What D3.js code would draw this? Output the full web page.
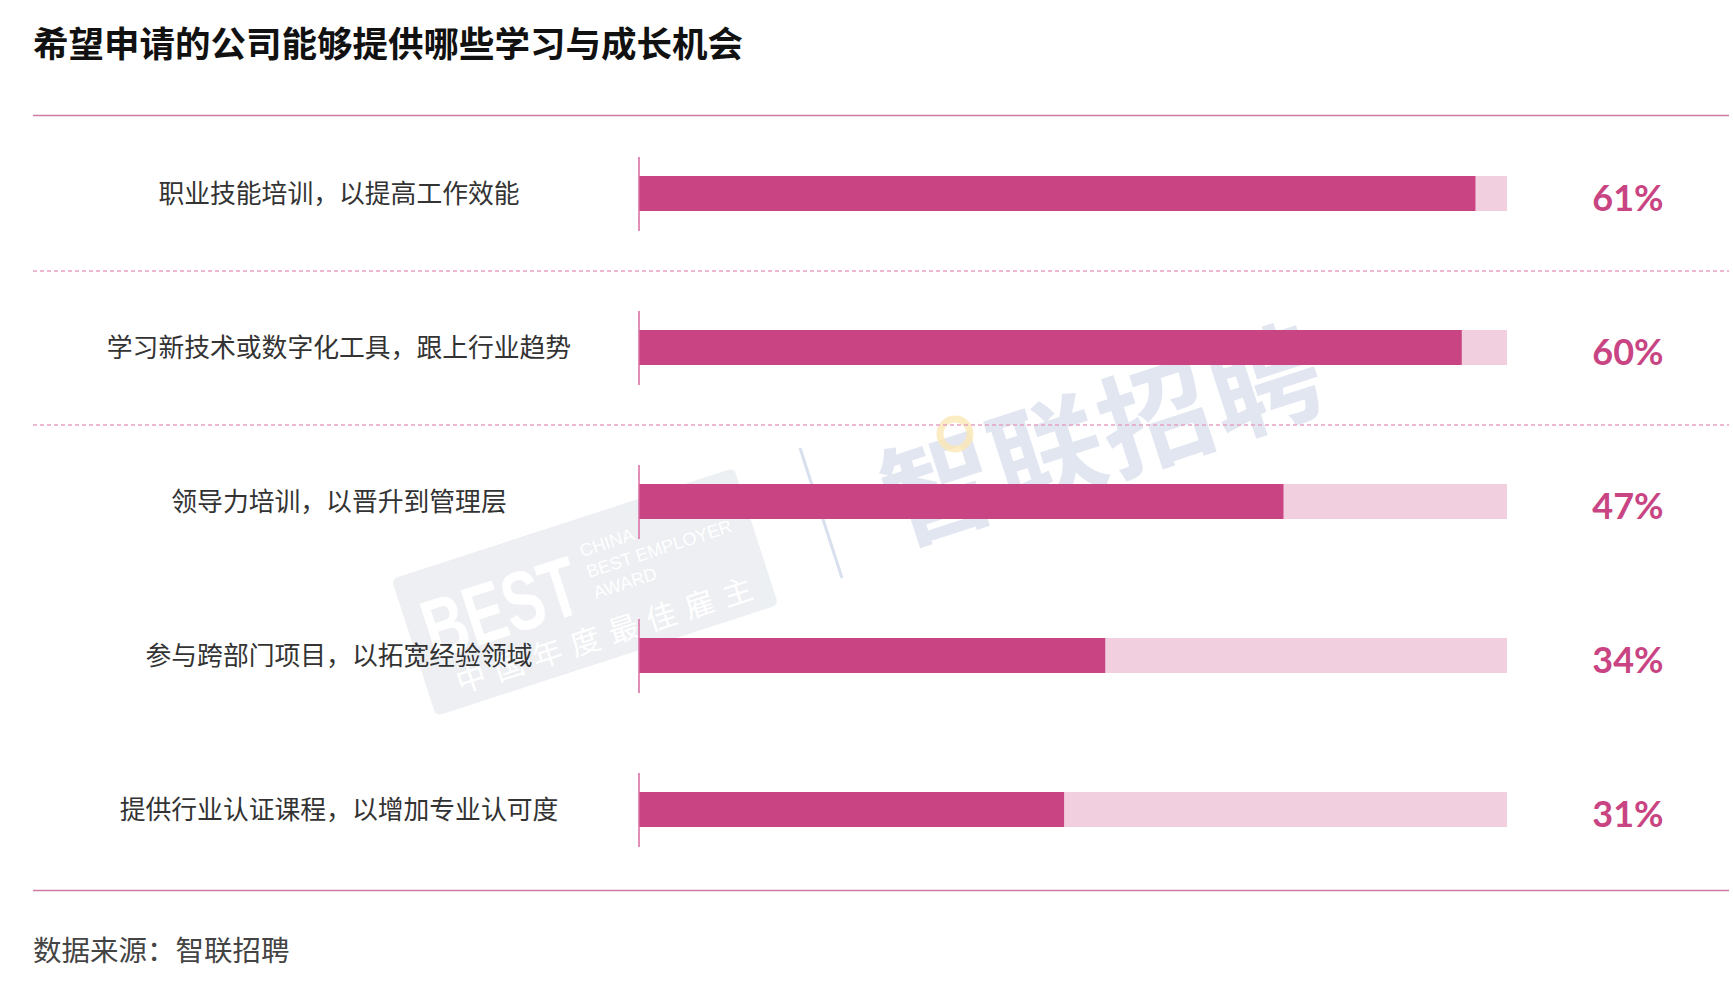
<!DOCTYPE html>
<html>
<head>
<meta charset="utf-8">
<script src="https://cdn.jsdelivr.net/npm/d3@7"></script>
<style>
  html, body { margin: 0; padding: 0; background: #ffffff; }
  svg { display: block; }
</style>
</head>
<body>
<svg id="chart" width="1733" height="1004"></svg>
<script>
// ---- data ----
const title = "希望申请的公司能够提供哪些学习与成长机会";
const source = "数据来源：智联招聘";
const categories = [
  "职业技能培训，以提高工作效能",
  "学习新技术或数字化工具，跟上行业趋势",
  "领导力培训，以晋升到管理层",
  "参与跨部门项目，以拓宽经验领域",
  "提供行业认证课程，以增加专业认可度"
];
const values = [61, 60, 47, 34, 31];
const valueLabels = ["61%", "60%", "47%", "34%", "31%"];
const trackMax = 63.3;

// ---- layout ----
const svg = d3.select("#chart");
const cjk = "'Noto Sans CJK SC', 'Noto Sans', sans-serif";

const x = d3.scaleLinear().domain([0, trackMax]).range([639, 1507]);
const y = d3.scaleBand().domain(categories).range([117, 887]).paddingInner(0).paddingOuter(0);
const barH = 35;
const barColor = "#c94482";
const trackColor = "#f2cfdf";
const lineColor = "#d07aa6";

// ---- watermarks ----
const wm = svg.append("g").attr("class", "watermark");
wm.append("text")
  .attr("transform", "translate(1100,428) rotate(-18)")
  .attr("text-anchor", "middle")
  .attr("dominant-baseline", "central")
  .style("font-family", cjk).style("font-weight", 700)
  .style("font-size", "112px")
  .style("letter-spacing", "2px")
  .attr("fill", "#c9d3e6").attr("opacity", 0.55)
  .text("智联招聘");
wm.append("circle").attr("cx", 955).attr("cy", 434).attr("r", 15)
  .attr("fill", "none").attr("stroke", "#fbe7b4").attr("stroke-width", 7).attr("opacity", 0.8);
wm.append("line").attr("x1", 800).attr("y1", 448).attr("x2", 842).attr("y2", 578)
  .attr("stroke", "#c9d3e6").attr("stroke-width", 3).attr("opacity", 0.7);
const badge = wm.append("g").attr("transform", "translate(585,592) rotate(-18)").attr("opacity", 0.55);
badge.append("rect").attr("x", -180).attr("y", -72).attr("width", 360).attr("height", 144)
  .attr("rx", 6).attr("fill", "#dfe3ea");
badge.append("text").attr("x", -165).attr("y", 18)
  .attr("textLength", 160).attr("lengthAdjust", "spacingAndGlyphs")
  .style("font-family", "'Liberation Sans Narrow', 'Liberation Sans', sans-serif")
  .style("font-weight", 700).style("font-size", "84px")
  .attr("fill", "#ffffff").text("BEST");
[["CHINA", -34], ["BEST EMPLOYER", -12], ["AWARD", 10]].forEach(d => {
  badge.append("text").attr("x", 8).attr("y", d[1])
    .style("font-family", "'Liberation Sans', sans-serif").style("font-size", "18px")
    .attr("fill", "#ffffff").text(d[0]);
});
badge.append("text").attr("x", -150).attr("y", 58)
  .attr("textLength", 310).attr("lengthAdjust", "spacing")
  .style("font-family", cjk).style("font-size", "30px")
  .attr("fill", "#ffffff").text("中国年度最佳雇主");

// ---- title ----
svg.append("text")
  .attr("x", 33).attr("y", 57)
  .style("font-family", cjk).style("font-weight", 700).style("font-size", "35.5px")
  .attr("fill", "#111111")
  .text(title);

// ---- frame lines ----
svg.append("line").attr("x1", 33).attr("x2", 1729).attr("y1", 115.5).attr("y2", 115.5)
  .attr("stroke", lineColor).attr("stroke-width", 1.5);
svg.append("line").attr("x1", 33).attr("x2", 1729).attr("y1", 890.5).attr("y2", 890.5)
  .attr("stroke", lineColor).attr("stroke-width", 1.5);

// dashed separators between first rows
[categories[0], categories[1]].forEach(c => {
  const yy = y(c) + y.bandwidth();
  svg.append("line").attr("x1", 33).attr("x2", 1729).attr("y1", yy).attr("y2", yy)
    .attr("stroke", "#e3a3c2").attr("stroke-width", 1.5).attr("stroke-dasharray", "4,3");
});

// ---- rows ----
const rows = svg.selectAll("g.row").data(categories).join("g").attr("class", "row")
  .attr("transform", d => `translate(0,${y(d) + y.bandwidth() / 2})`);

rows.append("rect")
  .attr("x", x(0)).attr("y", -barH / 2 - 0.5)
  .attr("width", x(trackMax) - x(0)).attr("height", barH)
  .attr("fill", trackColor);

rows.append("rect")
  .attr("x", x(0)).attr("y", -barH / 2 - 0.5)
  .attr("width", (d, i) => x(values[i]) - x(0)).attr("height", barH)
  .attr("fill", barColor);

// axis tick lines
rows.append("line")
  .attr("x1", x(0)).attr("x2", x(0)).attr("y1", -37).attr("y2", 37)
  .attr("stroke", "#d96aa0").attr("stroke-width", 1.5);

// category labels
rows.append("text")
  .attr("x", 339).attr("y", -3)
  .attr("text-anchor", "middle").attr("dominant-baseline", "central")
  .style("font-family", cjk).style("font-size", "25.8px").style("font-weight", 400)
  .attr("fill", "#333333")
  .text(d => d);

// value labels
rows.append("text")
  .attr("x", 1628).attr("y", 17)
  .attr("text-anchor", "middle")
  .style("font-family", "Lato, 'Open Sans', sans-serif").style("font-size", "36px").style("font-weight", 700)
  .attr("fill", barColor)
  .text((d, i) => valueLabels[i]);

// ---- source ----
svg.append("text")
  .attr("x", 33).attr("y", 961)
  .style("font-family", cjk).style("font-size", "28.5px")
  .attr("fill", "#444444")
  .text(source);
</script>
</body>
</html>
